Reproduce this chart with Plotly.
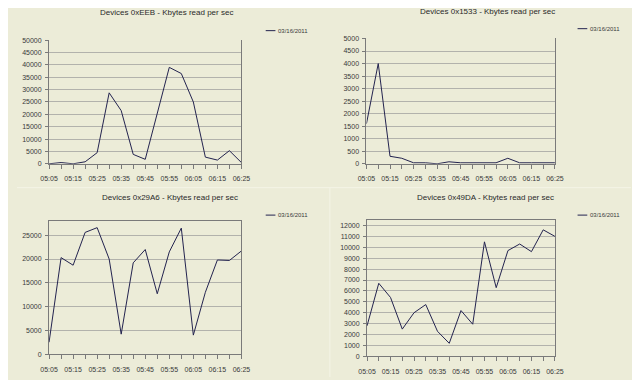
import plotly.graph_objects as go

times = ["05:05", "05:10", "05:15", "05:20", "05:25", "05:30", "05:35", "05:40", "05:45",
         "05:50", "05:55", "06:00", "06:05", "06:10", "06:15", "06:20", "06:25"]
tick_text = [t if i % 2 == 0 else "" for i, t in enumerate(times)]

titles = ["Devices 0xEEB - Kbytes read per sec",
          "Devices 0x1533 - Kbytes read per sec",
          "Devices 0x29A6 - Kbytes read per sec",
          "Devices 0x49DA - Kbytes read per sec"]
legend_label = "03/16/2011"

eeb = [0, 500, 0, 800, 4500, 28700, 21500, 3800, 1800, 20800, 39000, 36500, 25000, 2700, 1500, 5300, 500]
d1533 = [1600, 4000, 300, 220, 40, 40, 0, 80, 40, 40, 40, 40, 220, 40, 40, 40, 40]
d29a6 = [2500, 20300, 18700, 25600, 26600, 20000, 4200, 19200, 22000, 12700, 21500, 26500, 4000, 13000, 19800, 19700, 21700]
d49da = [2800, 6700, 5400, 2500, 4000, 4750, 2300, 1200, 4200, 2950, 10500, 6300, 9700, 10300, 9600, 11600, 11000]

series = [eeb, d1533, d29a6, d49da]
y_ranges = [[0, 50000], [0, 5000], [0, 28000], [0, 12500]]
y_dticks = [5000, 500, 5000, 1000]

# page has an 8px body margin; figure size is reduced accordingly
OFF = 8
W, H = 640 - OFF, 380 - OFF


def px(v):
    return (v - OFF) / W


def py(v):
    return 1 - (v - OFF) / H


x_px = [(41, 239), (367.7, 561.7), (41, 239), (368.3, 561.7)]
y_px = [(162.7, 36.7), (162.7, 35), (356.7, 221), (359, 220)]
title_pos = [(162, 10), (492, 9), (165, 199), (490, 199)]
legend_pos = [(264, 27), (585, 25), (264, 215), (585, 215)]
mirror_x = [False, False, True, True]

BG = "#ECECD8"
LINE = "#23234F"
GRID = "#B2B2AC"
AXIS = "#7A7A7A"
TXT = "#3A3A3A"
FONT = "Liberation Sans"

fig = go.Figure()
layout = dict(
    width=W, height=H, margin=dict(l=0, r=0, t=0, b=0),
    paper_bgcolor=BG, plot_bgcolor=BG, showlegend=False,
    font=dict(family=FONT, size=7, color=TXT),
)
annotations = []
shapes = []
for i in range(4):
    n = "" if i == 0 else str(i + 1)
    fig.add_trace(go.Scatter(x=times, y=series[i], mode="lines", name=legend_label,
                             line=dict(color=LINE, width=1), xaxis="x" + n, yaxis="y" + n))
    layout["xaxis" + n] = dict(
        domain=[px(x_px[i][0]), px(x_px[i][1])], anchor="y" + n, type="category", range=[0, 16],
        tickmode="array", tickvals=times, ticktext=tick_text,
        ticks="outside", ticklen=4, tickcolor=AXIS, showgrid=False, ticklabelstandoff=4,
        showline=True, linecolor=AXIS, linewidth=1, mirror=mirror_x[i],
        tickfont=dict(family=FONT, size=7, color=TXT), zeroline=False, fixedrange=True,
    )
    layout["yaxis" + n] = dict(
        domain=[py(y_px[i][0]), py(y_px[i][1])], anchor="x" + n, range=y_ranges[i],
        dtick=y_dticks[i], tick0=0, tickformat="d", ticklabelstandoff=2,
        ticks="outside", ticklen=3, tickcolor=AXIS, showgrid=True, gridcolor=GRID, gridwidth=1,
        showline=True, linecolor=AXIS, linewidth=1, mirror=True, zeroline=False,
        tickfont=dict(family=FONT, size=7, color=TXT), fixedrange=True,
    )
    tx, ty = title_pos[i]
    annotations.append(dict(text=titles[i], x=px(tx), y=py(ty - 2), xref="paper", yref="paper",
                            showarrow=False, xanchor="center", yanchor="middle",
                            font=dict(family=FONT, size=8, color="#2A2A2A")))
    lx, ly = legend_pos[i]
    shapes.append(dict(type="line", xref="paper", yref="paper",
                       x0=px(lx), x1=px(lx + 10), y0=py(ly), y1=py(ly),
                       line=dict(color=LINE, width=1)))
    annotations.append(dict(text=legend_label, x=px(lx + 11), y=py(ly), xref="paper", yref="paper",
                            showarrow=False, xanchor="left", yanchor="middle",
                            font=dict(family=FONT, size=6, color=TXT)))

# faint panel separators
shapes.append(dict(type="line", xref="paper", yref="paper", x0=0, x1=1, y0=py(187), y1=py(187),
                   line=dict(color="#F4F4E6", width=1)))
shapes.append(dict(type="line", xref="paper", yref="paper", x0=px(330), x1=px(330), y0=0, y1=py(187),
                   line=dict(color="#F4F4E6", width=1)))

layout["annotations"] = annotations
layout["shapes"] = shapes
fig.update_layout(**layout)
fig.write_html("out.html")
